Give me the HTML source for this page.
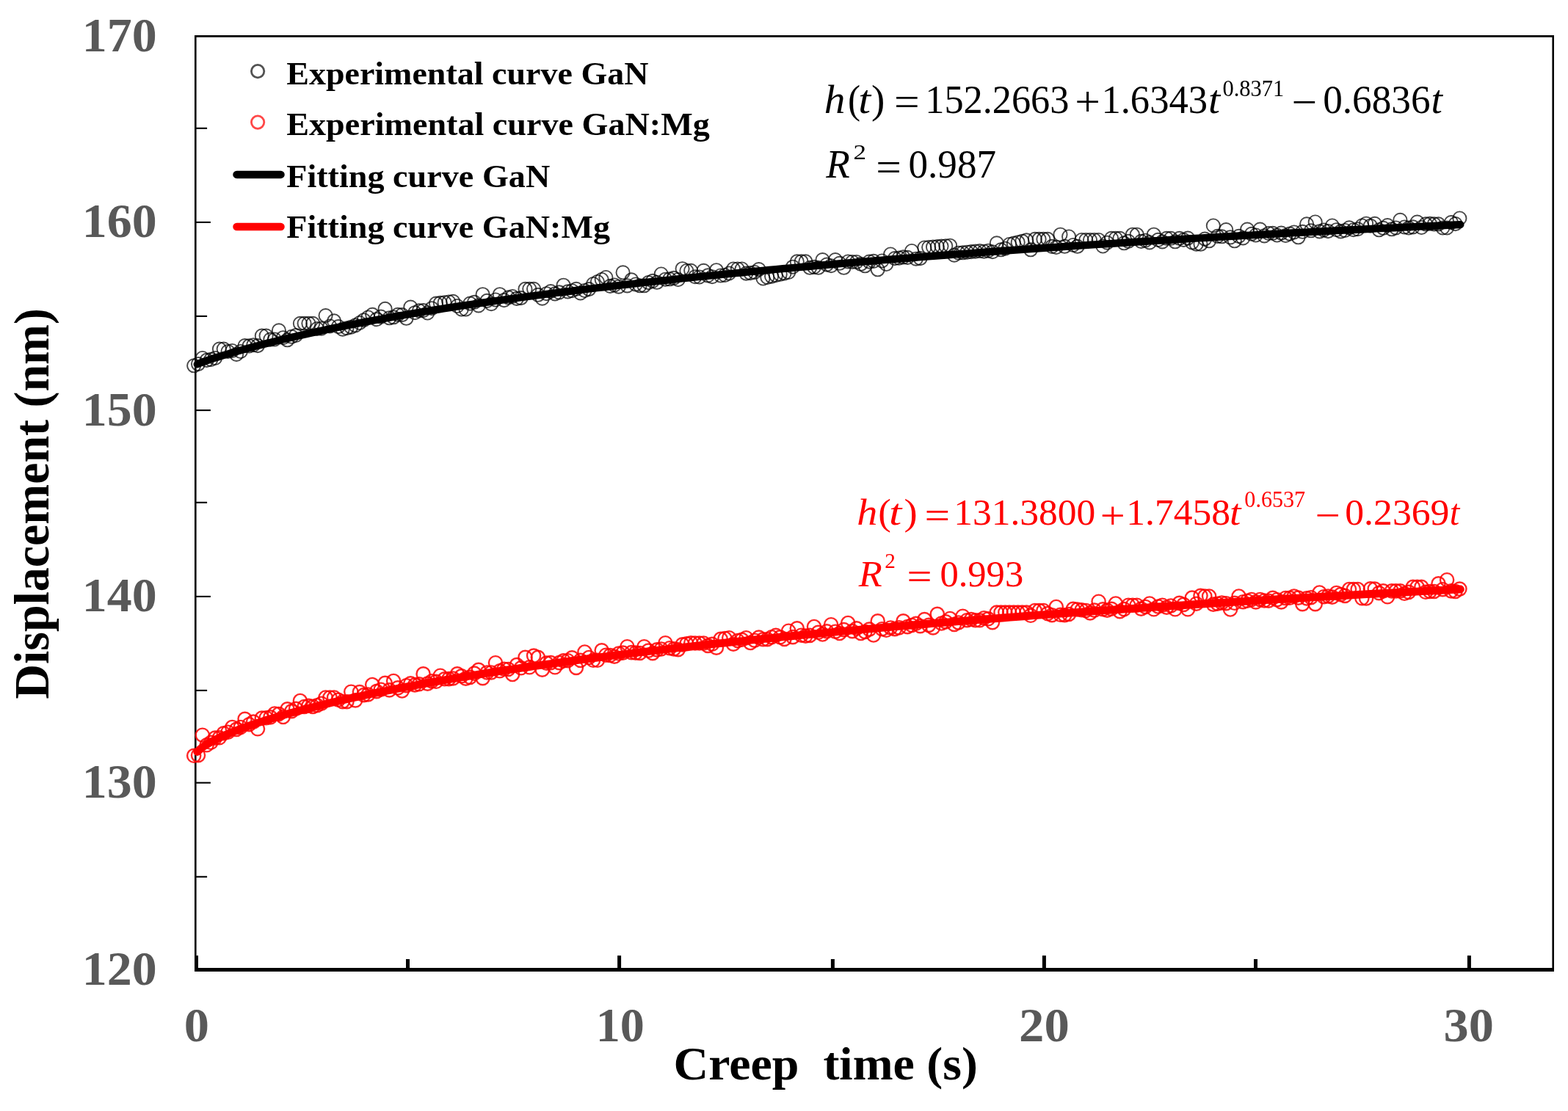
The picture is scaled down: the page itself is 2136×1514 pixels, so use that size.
<!DOCTYPE html>
<html lang="en"><head><meta charset="utf-8"><title>Creep displacement vs. creep time</title>
<style>
html,body{margin:0;padding:0;background:#fff;}
body{width:2136px;height:1514px;overflow:hidden;}
svg{display:block;}
text{font-family:"Liberation Serif","DejaVu Serif",serif;}
</style></head><body>
<svg xmlns="http://www.w3.org/2000/svg" width="2136" height="1514" viewBox="0 0 2136 1514">
<rect x="0" y="0" width="2136" height="1514" fill="#fff"/>
<g stroke="#000" fill="none">
<line x1="266.3" y1="48.1" x2="266.3" y2="1324.0" stroke-width="2.6"/>
<line x1="2115.7" y1="48.1" x2="2115.7" y2="1324.0" stroke-width="2.6"/>
<line x1="265.0" y1="49.4" x2="2117.0" y2="49.4" stroke-width="2.6"/>
<line x1="265.0" y1="1321.5" x2="2117.0" y2="1321.5" stroke-width="5"/>
<line x1="266.3" y1="302.9" x2="286.9" y2="302.9" stroke-width="2.1"/>
<line x1="266.3" y1="559.1" x2="286.9" y2="559.1" stroke-width="2.1"/>
<line x1="266.3" y1="812.9" x2="286.9" y2="812.9" stroke-width="2.1"/>
<line x1="266.3" y1="1066.7" x2="286.9" y2="1066.7" stroke-width="2.1"/>
<line x1="266.3" y1="174.8" x2="282.1" y2="174.8" stroke-width="2.1"/>
<line x1="266.3" y1="430.9" x2="282.1" y2="430.9" stroke-width="2.1"/>
<line x1="266.3" y1="684.8" x2="282.1" y2="684.8" stroke-width="2.1"/>
<line x1="266.3" y1="940.9" x2="282.1" y2="940.9" stroke-width="2.1"/>
<line x1="266.3" y1="1194.8" x2="282.1" y2="1194.8" stroke-width="2.1"/>
<line x1="267.5" y1="1302.2" x2="267.5" y2="1321.5" stroke-width="5"/>
<line x1="843.6" y1="1302.2" x2="843.6" y2="1321.5" stroke-width="5"/>
<line x1="1422.4" y1="1302.2" x2="1422.4" y2="1321.5" stroke-width="5"/>
<line x1="2001.4" y1="1302.2" x2="2001.4" y2="1321.5" stroke-width="5"/>
<line x1="555.5" y1="1307.0" x2="555.5" y2="1321.5" stroke-width="5"/>
<line x1="1134.4" y1="1307.0" x2="1134.4" y2="1321.5" stroke-width="5"/>
<line x1="1710.5" y1="1307.0" x2="1710.5" y2="1321.5" stroke-width="5"/>
</g>
<g fill="none" stroke="#000" stroke-width="1.9" stroke-opacity="0.72"><circle cx="264.2" cy="498.3" r="9.1"/><circle cx="270.0" cy="496.1" r="9.1"/><circle cx="275.8" cy="488.0" r="9.1"/><circle cx="281.6" cy="490.9" r="9.1"/><circle cx="287.3" cy="489.9" r="9.1"/><circle cx="293.1" cy="488.0" r="9.1"/><circle cx="298.9" cy="475.6" r="9.1"/><circle cx="304.7" cy="475.6" r="9.1"/><circle cx="310.5" cy="479.0" r="9.1"/><circle cx="316.3" cy="478.0" r="9.1"/><circle cx="322.1" cy="482.9" r="9.1"/><circle cx="327.8" cy="479.0" r="9.1"/><circle cx="333.6" cy="471.1" r="9.1"/><circle cx="339.4" cy="471.4" r="9.1"/><circle cx="345.2" cy="470.2" r="9.1"/><circle cx="351.0" cy="471.1" r="9.1"/><circle cx="356.8" cy="457.6" r="9.1"/><circle cx="362.6" cy="457.6" r="9.1"/><circle cx="368.3" cy="462.6" r="9.1"/><circle cx="374.1" cy="462.5" r="9.1"/><circle cx="379.9" cy="450.3" r="9.1"/><circle cx="385.7" cy="460.2" r="9.1"/><circle cx="391.5" cy="463.3" r="9.1"/><circle cx="397.3" cy="458.8" r="9.1"/><circle cx="403.1" cy="457.0" r="9.1"/><circle cx="408.9" cy="440.8" r="9.1"/><circle cx="414.6" cy="440.8" r="9.1"/><circle cx="420.4" cy="440.8" r="9.1"/><circle cx="426.2" cy="440.8" r="9.1"/><circle cx="432.0" cy="448.0" r="9.1"/><circle cx="437.8" cy="447.7" r="9.1"/><circle cx="443.6" cy="430.1" r="9.1"/><circle cx="449.4" cy="444.5" r="9.1"/><circle cx="455.1" cy="437.4" r="9.1"/><circle cx="460.9" cy="445.1" r="9.1"/><circle cx="466.7" cy="448.7" r="9.1"/><circle cx="472.5" cy="447.2" r="9.1"/><circle cx="478.3" cy="445.7" r="9.1"/><circle cx="484.1" cy="443.4" r="9.1"/><circle cx="489.9" cy="440.0" r="9.1"/><circle cx="495.6" cy="436.2" r="9.1"/><circle cx="501.4" cy="432.5" r="9.1"/><circle cx="507.2" cy="428.8" r="9.1"/><circle cx="513.0" cy="435.2" r="9.1"/><circle cx="518.8" cy="431.6" r="9.1"/><circle cx="524.6" cy="420.9" r="9.1"/><circle cx="530.4" cy="433.3" r="9.1"/><circle cx="536.1" cy="432.3" r="9.1"/><circle cx="541.9" cy="428.8" r="9.1"/><circle cx="547.7" cy="429.1" r="9.1"/><circle cx="553.5" cy="433.8" r="9.1"/><circle cx="559.3" cy="418.6" r="9.1"/><circle cx="565.1" cy="426.2" r="9.1"/><circle cx="570.9" cy="423.4" r="9.1"/><circle cx="576.6" cy="423.1" r="9.1"/><circle cx="582.4" cy="426.5" r="9.1"/><circle cx="588.2" cy="420.2" r="9.1"/><circle cx="594.0" cy="413.6" r="9.1"/><circle cx="599.8" cy="412.9" r="9.1"/><circle cx="605.6" cy="412.2" r="9.1"/><circle cx="611.4" cy="411.5" r="9.1"/><circle cx="617.1" cy="410.8" r="9.1"/><circle cx="622.9" cy="417.0" r="9.1"/><circle cx="628.7" cy="421.5" r="9.1"/><circle cx="634.5" cy="421.5" r="9.1"/><circle cx="640.3" cy="413.6" r="9.1"/><circle cx="646.1" cy="411.8" r="9.1"/><circle cx="651.9" cy="416.4" r="9.1"/><circle cx="657.6" cy="401.2" r="9.1"/><circle cx="663.4" cy="409.9" r="9.1"/><circle cx="669.2" cy="414.2" r="9.1"/><circle cx="675.0" cy="408.5" r="9.1"/><circle cx="680.8" cy="401.2" r="9.1"/><circle cx="686.6" cy="409.1" r="9.1"/><circle cx="692.4" cy="405.3" r="9.1"/><circle cx="698.1" cy="404.0" r="9.1"/><circle cx="703.9" cy="406.9" r="9.1"/><circle cx="709.7" cy="406.1" r="9.1"/><circle cx="715.5" cy="393.9" r="9.1"/><circle cx="721.3" cy="393.8" r="9.1"/><circle cx="727.1" cy="393.8" r="9.1"/><circle cx="732.9" cy="401.8" r="9.1"/><circle cx="738.7" cy="406.7" r="9.1"/><circle cx="744.4" cy="400.2" r="9.1"/><circle cx="750.2" cy="397.1" r="9.1"/><circle cx="756.0" cy="400.4" r="9.1"/><circle cx="761.8" cy="398.4" r="9.1"/><circle cx="767.6" cy="388.7" r="9.1"/><circle cx="773.4" cy="397.4" r="9.1"/><circle cx="779.2" cy="396.2" r="9.1"/><circle cx="784.9" cy="393.8" r="9.1"/><circle cx="790.7" cy="399.4" r="9.1"/><circle cx="796.5" cy="396.0" r="9.1"/><circle cx="802.3" cy="394.1" r="9.1"/><circle cx="808.1" cy="387.0" r="9.1"/><circle cx="813.9" cy="384.0" r="9.1"/><circle cx="819.7" cy="381.0" r="9.1"/><circle cx="825.4" cy="378.0" r="9.1"/><circle cx="831.2" cy="389.9" r="9.1"/><circle cx="837.0" cy="388.5" r="9.1"/><circle cx="842.8" cy="390.7" r="9.1"/><circle cx="848.6" cy="371.3" r="9.1"/><circle cx="854.4" cy="389.4" r="9.1"/><circle cx="860.2" cy="381.4" r="9.1"/><circle cx="865.9" cy="387.5" r="9.1"/><circle cx="871.7" cy="389.3" r="9.1"/><circle cx="877.5" cy="389.3" r="9.1"/><circle cx="883.3" cy="385.1" r="9.1"/><circle cx="889.1" cy="382.9" r="9.1"/><circle cx="894.9" cy="384.8" r="9.1"/><circle cx="900.7" cy="373.5" r="9.1"/><circle cx="906.4" cy="380.7" r="9.1"/><circle cx="912.2" cy="380.3" r="9.1"/><circle cx="918.0" cy="378.9" r="9.1"/><circle cx="923.8" cy="381.0" r="9.1"/><circle cx="929.6" cy="366.2" r="9.1"/><circle cx="935.4" cy="369.0" r="9.1"/><circle cx="941.2" cy="368.8" r="9.1"/><circle cx="946.9" cy="377.2" r="9.1"/><circle cx="952.7" cy="377.5" r="9.1"/><circle cx="958.5" cy="368.8" r="9.1"/><circle cx="964.3" cy="375.4" r="9.1"/><circle cx="970.1" cy="377.2" r="9.1"/><circle cx="975.9" cy="368.2" r="9.1"/><circle cx="981.7" cy="375.5" r="9.1"/><circle cx="987.5" cy="375.0" r="9.1"/><circle cx="993.2" cy="372.5" r="9.1"/><circle cx="999.0" cy="366.5" r="9.1"/><circle cx="1004.8" cy="366.5" r="9.1"/><circle cx="1010.6" cy="366.5" r="9.1"/><circle cx="1016.4" cy="372.6" r="9.1"/><circle cx="1022.2" cy="372.1" r="9.1"/><circle cx="1028.0" cy="371.0" r="9.1"/><circle cx="1033.7" cy="367.1" r="9.1"/><circle cx="1039.5" cy="379.5" r="9.1"/><circle cx="1045.3" cy="378.0" r="9.1"/><circle cx="1051.1" cy="376.6" r="9.1"/><circle cx="1056.9" cy="375.2" r="9.1"/><circle cx="1062.7" cy="373.8" r="9.1"/><circle cx="1068.5" cy="372.4" r="9.1"/><circle cx="1074.2" cy="371.0" r="9.1"/><circle cx="1080.0" cy="363.7" r="9.1"/><circle cx="1085.8" cy="356.4" r="9.1"/><circle cx="1091.6" cy="356.4" r="9.1"/><circle cx="1097.4" cy="356.4" r="9.1"/><circle cx="1103.2" cy="364.8" r="9.1"/><circle cx="1109.0" cy="363.9" r="9.1"/><circle cx="1114.7" cy="364.8" r="9.1"/><circle cx="1120.5" cy="354.1" r="9.1"/><circle cx="1126.3" cy="360.6" r="9.1"/><circle cx="1132.1" cy="362.2" r="9.1"/><circle cx="1137.9" cy="354.1" r="9.1"/><circle cx="1143.7" cy="358.8" r="9.1"/><circle cx="1149.5" cy="364.8" r="9.1"/><circle cx="1155.2" cy="356.5" r="9.1"/><circle cx="1161.0" cy="357.0" r="9.1"/><circle cx="1166.8" cy="357.0" r="9.1"/><circle cx="1172.6" cy="359.8" r="9.1"/><circle cx="1178.4" cy="362.3" r="9.1"/><circle cx="1184.2" cy="356.6" r="9.1"/><circle cx="1190.0" cy="355.9" r="9.1"/><circle cx="1195.7" cy="367.3" r="9.1"/><circle cx="1201.5" cy="355.5" r="9.1"/><circle cx="1207.3" cy="360.0" r="9.1"/><circle cx="1213.1" cy="346.5" r="9.1"/><circle cx="1218.9" cy="352.1" r="9.1"/><circle cx="1224.7" cy="351.6" r="9.1"/><circle cx="1230.5" cy="350.4" r="9.1"/><circle cx="1236.2" cy="350.9" r="9.1"/><circle cx="1242.0" cy="342.0" r="9.1"/><circle cx="1247.8" cy="352.7" r="9.1"/><circle cx="1253.6" cy="352.1" r="9.1"/><circle cx="1259.4" cy="337.5" r="9.1"/><circle cx="1265.2" cy="337.0" r="9.1"/><circle cx="1271.0" cy="336.6" r="9.1"/><circle cx="1276.8" cy="336.1" r="9.1"/><circle cx="1282.5" cy="335.6" r="9.1"/><circle cx="1288.3" cy="335.2" r="9.1"/><circle cx="1294.1" cy="334.7" r="9.1"/><circle cx="1299.9" cy="347.7" r="9.1"/><circle cx="1305.7" cy="344.7" r="9.1"/><circle cx="1311.5" cy="344.3" r="9.1"/><circle cx="1317.3" cy="343.7" r="9.1"/><circle cx="1323.0" cy="343.1" r="9.1"/><circle cx="1328.8" cy="342.6" r="9.1"/><circle cx="1334.6" cy="342.0" r="9.1"/><circle cx="1340.4" cy="342.7" r="9.1"/><circle cx="1346.2" cy="341.7" r="9.1"/><circle cx="1352.0" cy="343.2" r="9.1"/><circle cx="1357.8" cy="331.3" r="9.1"/><circle cx="1363.5" cy="340.3" r="9.1"/><circle cx="1369.3" cy="338.7" r="9.1"/><circle cx="1375.1" cy="333.0" r="9.1"/><circle cx="1380.9" cy="331.6" r="9.1"/><circle cx="1386.7" cy="330.2" r="9.1"/><circle cx="1392.5" cy="328.8" r="9.1"/><circle cx="1398.3" cy="327.4" r="9.1"/><circle cx="1404.0" cy="340.3" r="9.1"/><circle cx="1409.8" cy="325.9" r="9.1"/><circle cx="1415.6" cy="325.9" r="9.1"/><circle cx="1421.4" cy="325.9" r="9.1"/><circle cx="1427.2" cy="325.9" r="9.1"/><circle cx="1433.0" cy="335.9" r="9.1"/><circle cx="1438.8" cy="337.0" r="9.1"/><circle cx="1444.5" cy="319.7" r="9.1"/><circle cx="1450.3" cy="335.8" r="9.1"/><circle cx="1456.1" cy="322.5" r="9.1"/><circle cx="1461.9" cy="334.0" r="9.1"/><circle cx="1467.7" cy="335.8" r="9.1"/><circle cx="1473.5" cy="327.0" r="9.1"/><circle cx="1479.3" cy="327.0" r="9.1"/><circle cx="1485.0" cy="327.0" r="9.1"/><circle cx="1490.8" cy="327.0" r="9.1"/><circle cx="1496.6" cy="327.0" r="9.1"/><circle cx="1502.4" cy="335.5" r="9.1"/><circle cx="1508.2" cy="330.7" r="9.1"/><circle cx="1514.0" cy="324.8" r="9.1"/><circle cx="1519.8" cy="324.8" r="9.1"/><circle cx="1525.5" cy="324.8" r="9.1"/><circle cx="1531.3" cy="331.3" r="9.1"/><circle cx="1537.1" cy="328.8" r="9.1"/><circle cx="1542.9" cy="319.7" r="9.1"/><circle cx="1548.7" cy="319.7" r="9.1"/><circle cx="1554.5" cy="328.9" r="9.1"/><circle cx="1560.3" cy="327.7" r="9.1"/><circle cx="1566.0" cy="330.4" r="9.1"/><circle cx="1571.8" cy="319.7" r="9.1"/><circle cx="1577.6" cy="326.9" r="9.1"/><circle cx="1583.4" cy="329.4" r="9.1"/><circle cx="1589.2" cy="324.8" r="9.1"/><circle cx="1595.0" cy="324.8" r="9.1"/><circle cx="1600.8" cy="329.3" r="9.1"/><circle cx="1606.6" cy="324.8" r="9.1"/><circle cx="1612.3" cy="326.9" r="9.1"/><circle cx="1618.1" cy="324.6" r="9.1"/><circle cx="1623.9" cy="330.4" r="9.1"/><circle cx="1629.7" cy="332.7" r="9.1"/><circle cx="1635.5" cy="332.8" r="9.1"/><circle cx="1641.3" cy="325.6" r="9.1"/><circle cx="1647.1" cy="328.3" r="9.1"/><circle cx="1652.8" cy="307.5" r="9.1"/><circle cx="1658.6" cy="321.9" r="9.1"/><circle cx="1664.4" cy="322.3" r="9.1"/><circle cx="1670.2" cy="313.1" r="9.1"/><circle cx="1676.0" cy="323.4" r="9.1"/><circle cx="1681.8" cy="328.3" r="9.1"/><circle cx="1687.6" cy="321.9" r="9.1"/><circle cx="1693.3" cy="324.4" r="9.1"/><circle cx="1699.1" cy="312.6" r="9.1"/><circle cx="1704.9" cy="318.8" r="9.1"/><circle cx="1710.7" cy="320.5" r="9.1"/><circle cx="1716.5" cy="312.6" r="9.1"/><circle cx="1722.3" cy="321.4" r="9.1"/><circle cx="1728.1" cy="318.0" r="9.1"/><circle cx="1733.8" cy="317.8" r="9.1"/><circle cx="1739.6" cy="320.5" r="9.1"/><circle cx="1745.4" cy="317.6" r="9.1"/><circle cx="1751.2" cy="321.0" r="9.1"/><circle cx="1757.0" cy="318.6" r="9.1"/><circle cx="1762.8" cy="316.5" r="9.1"/><circle cx="1768.6" cy="323.3" r="9.1"/><circle cx="1774.3" cy="315.8" r="9.1"/><circle cx="1780.1" cy="305.3" r="9.1"/><circle cx="1785.9" cy="314.3" r="9.1"/><circle cx="1791.7" cy="302.5" r="9.1"/><circle cx="1797.5" cy="315.4" r="9.1"/><circle cx="1803.3" cy="313.5" r="9.1"/><circle cx="1809.1" cy="315.1" r="9.1"/><circle cx="1814.8" cy="307.5" r="9.1"/><circle cx="1820.6" cy="313.2" r="9.1"/><circle cx="1826.4" cy="315.4" r="9.1"/><circle cx="1832.2" cy="314.0" r="9.1"/><circle cx="1838.0" cy="310.3" r="9.1"/><circle cx="1843.8" cy="313.2" r="9.1"/><circle cx="1849.6" cy="312.2" r="9.1"/><circle cx="1855.4" cy="307.5" r="9.1"/><circle cx="1861.1" cy="304.7" r="9.1"/><circle cx="1866.9" cy="307.7" r="9.1"/><circle cx="1872.7" cy="304.8" r="9.1"/><circle cx="1878.5" cy="313.3" r="9.1"/><circle cx="1884.3" cy="310.8" r="9.1"/><circle cx="1890.1" cy="307.1" r="9.1"/><circle cx="1895.9" cy="312.3" r="9.1"/><circle cx="1901.6" cy="310.5" r="9.1"/><circle cx="1907.4" cy="299.8" r="9.1"/><circle cx="1913.2" cy="309.5" r="9.1"/><circle cx="1919.0" cy="310.5" r="9.1"/><circle cx="1924.8" cy="309.4" r="9.1"/><circle cx="1930.6" cy="302.6" r="9.1"/><circle cx="1936.4" cy="310.0" r="9.1"/><circle cx="1942.1" cy="305.4" r="9.1"/><circle cx="1947.9" cy="304.8" r="9.1"/><circle cx="1953.7" cy="305.4" r="9.1"/><circle cx="1959.5" cy="305.4" r="9.1"/><circle cx="1965.3" cy="310.5" r="9.1"/><circle cx="1971.1" cy="310.5" r="9.1"/><circle cx="1976.9" cy="303.1" r="9.1"/><circle cx="1982.6" cy="305.1" r="9.1"/><circle cx="1988.4" cy="297.5" r="9.1"/></g>
<polyline fill="none" stroke="#000" stroke-width="10.2" stroke-linecap="round" stroke-linejoin="round" points="268.7,496.4 273.0,494.5 277.4,492.9 281.8,491.4 286.2,489.9 290.7,488.4 295.3,487.0 299.8,485.6 304.5,484.2 309.1,482.8 313.8,481.4 318.6,480.0 323.4,478.6 328.2,477.3 333.1,475.9 338.0,474.6 343.0,473.2 348.0,471.9 353.1,470.6 358.2,469.3 363.3,468.0 368.5,466.7 373.7,465.4 379.0,464.1 384.3,462.8 389.7,461.5 395.1,460.2 400.5,459.0 406.0,457.7 411.5,456.5 417.1,455.2 422.7,454.0 428.4,452.7 434.1,451.5 439.8,450.3 445.6,449.1 451.4,447.8 457.3,446.6 463.2,445.4 469.2,444.2 475.2,443.0 481.2,441.9 487.3,440.7 493.4,439.5 499.6,438.3 505.8,437.2 512.1,436.0 518.4,434.9 524.7,433.7 531.1,432.6 537.5,431.5 544.0,430.4 550.5,429.2 557.1,428.1 563.7,427.0 570.3,425.9 577.0,424.8 583.8,423.7 590.5,422.6 597.4,421.6 604.2,420.5 611.1,419.4 618.1,418.4 625.1,417.3 632.1,416.2 639.2,415.2 646.3,414.2 653.5,413.1 660.7,412.1 667.9,411.1 675.2,410.0 682.5,409.0 689.9,408.0 697.3,407.0 704.8,406.0 712.3,405.0 719.9,404.0 727.4,403.0 735.1,402.0 742.8,401.0 750.5,400.0 758.2,399.0 766.1,398.1 773.9,397.1 781.8,396.1 789.7,395.2 797.7,394.2 805.7,393.3 813.8,392.3 821.9,391.4 830.1,390.4 838.3,389.5 846.5,388.5 854.8,387.6 863.1,386.7 871.5,385.7 879.9,384.8 888.3,383.9 896.8,383.0 905.4,382.1 914.0,381.2 922.6,380.3 931.2,379.3 940.0,378.4 948.7,377.5 957.5,376.7 966.4,375.8 975.2,374.9 984.2,374.0 993.1,373.1 1002.1,372.2 1011.2,371.4 1020.3,370.5 1029.4,369.6 1038.6,368.8 1047.9,367.9 1057.1,367.0 1066.4,366.2 1075.8,365.3 1085.2,364.5 1094.6,363.6 1104.1,362.8 1113.6,361.9 1123.2,361.1 1132.8,360.3 1142.5,359.4 1152.2,358.6 1161.9,357.8 1171.7,357.0 1181.6,356.1 1191.4,355.3 1201.3,354.5 1211.3,353.7 1221.3,352.9 1231.3,352.1 1241.4,351.3 1251.6,350.5 1261.7,349.7 1272.0,348.9 1282.2,348.1 1292.5,347.3 1302.9,346.5 1313.3,345.8 1323.7,345.0 1334.2,344.2 1344.7,343.4 1355.2,342.7 1365.8,341.9 1376.5,341.2 1387.2,340.4 1397.9,339.6 1408.7,338.9 1419.5,338.1 1430.4,337.4 1441.3,336.7 1452.2,335.9 1463.2,335.2 1474.3,334.5 1485.3,333.7 1496.5,333.0 1507.6,332.3 1518.8,331.6 1530.1,330.8 1541.4,330.1 1552.7,329.4 1564.1,328.7 1575.5,328.0 1587.0,327.3 1598.5,326.6 1610.0,325.9 1621.6,325.2 1633.3,324.5 1644.9,323.9 1656.7,323.2 1668.4,322.5 1680.2,321.8 1692.1,321.2 1704.0,320.5 1715.9,319.8 1727.9,319.2 1739.9,318.5 1752.0,317.9 1764.1,317.2 1776.2,316.6 1788.4,315.9 1800.7,315.3 1813.0,314.6 1825.3,314.0 1837.7,313.4 1850.1,312.8 1862.5,312.1 1875.0,311.5 1887.6,310.9 1900.1,310.3 1912.8,309.7 1925.4,309.1 1938.1,308.5 1950.9,307.9 1963.7,307.3 1976.5,306.7 1989.4,306.1"/>
<g fill="none" stroke="#ff0000" stroke-width="2.4" stroke-opacity="0.85"><circle cx="264.2" cy="1029.8" r="9.1"/><circle cx="270.0" cy="1029.2" r="9.1"/><circle cx="275.8" cy="1001.7" r="9.1"/><circle cx="281.6" cy="1015.3" r="9.1"/><circle cx="287.3" cy="1011.8" r="9.1"/><circle cx="293.1" cy="1005.6" r="9.1"/><circle cx="298.9" cy="1005.3" r="9.1"/><circle cx="304.7" cy="999.3" r="9.1"/><circle cx="310.5" cy="997.7" r="9.1"/><circle cx="316.3" cy="991.0" r="9.1"/><circle cx="322.1" cy="993.9" r="9.1"/><circle cx="327.8" cy="991.0" r="9.1"/><circle cx="333.6" cy="979.8" r="9.1"/><circle cx="339.4" cy="987.2" r="9.1"/><circle cx="345.2" cy="983.6" r="9.1"/><circle cx="351.0" cy="993.3" r="9.1"/><circle cx="356.8" cy="978.6" r="9.1"/><circle cx="362.6" cy="978.2" r="9.1"/><circle cx="368.3" cy="977.4" r="9.1"/><circle cx="374.1" cy="972.5" r="9.1"/><circle cx="379.9" cy="973.0" r="9.1"/><circle cx="385.7" cy="977.0" r="9.1"/><circle cx="391.5" cy="966.3" r="9.1"/><circle cx="397.3" cy="969.1" r="9.1"/><circle cx="403.1" cy="965.8" r="9.1"/><circle cx="408.9" cy="955.0" r="9.1"/><circle cx="414.6" cy="963.0" r="9.1"/><circle cx="420.4" cy="961.8" r="9.1"/><circle cx="426.2" cy="962.9" r="9.1"/><circle cx="432.0" cy="961.2" r="9.1"/><circle cx="437.8" cy="958.7" r="9.1"/><circle cx="443.6" cy="950.5" r="9.1"/><circle cx="449.4" cy="950.5" r="9.1"/><circle cx="455.1" cy="950.5" r="9.1"/><circle cx="460.9" cy="953.7" r="9.1"/><circle cx="466.7" cy="956.2" r="9.1"/><circle cx="472.5" cy="956.2" r="9.1"/><circle cx="478.3" cy="942.7" r="9.1"/><circle cx="484.1" cy="954.4" r="9.1"/><circle cx="489.9" cy="943.1" r="9.1"/><circle cx="495.6" cy="947.1" r="9.1"/><circle cx="501.4" cy="946.5" r="9.1"/><circle cx="507.2" cy="933.0" r="9.1"/><circle cx="513.0" cy="942.1" r="9.1"/><circle cx="518.8" cy="939.7" r="9.1"/><circle cx="524.6" cy="930.8" r="9.1"/><circle cx="530.4" cy="940.4" r="9.1"/><circle cx="536.1" cy="928.0" r="9.1"/><circle cx="541.9" cy="937.4" r="9.1"/><circle cx="547.7" cy="941.5" r="9.1"/><circle cx="553.5" cy="934.2" r="9.1"/><circle cx="559.3" cy="931.3" r="9.1"/><circle cx="565.1" cy="933.4" r="9.1"/><circle cx="570.9" cy="932.3" r="9.1"/><circle cx="576.6" cy="918.4" r="9.1"/><circle cx="582.4" cy="931.6" r="9.1"/><circle cx="588.2" cy="928.2" r="9.1"/><circle cx="594.0" cy="928.8" r="9.1"/><circle cx="599.8" cy="920.7" r="9.1"/><circle cx="605.6" cy="925.3" r="9.1"/><circle cx="611.4" cy="925.1" r="9.1"/><circle cx="617.1" cy="924.5" r="9.1"/><circle cx="622.9" cy="918.4" r="9.1"/><circle cx="628.7" cy="921.3" r="9.1"/><circle cx="634.5" cy="924.6" r="9.1"/><circle cx="640.3" cy="922.9" r="9.1"/><circle cx="646.1" cy="917.6" r="9.1"/><circle cx="651.9" cy="912.8" r="9.1"/><circle cx="657.6" cy="924.1" r="9.1"/><circle cx="663.4" cy="916.5" r="9.1"/><circle cx="669.2" cy="916.5" r="9.1"/><circle cx="675.0" cy="903.2" r="9.1"/><circle cx="680.8" cy="914.3" r="9.1"/><circle cx="686.6" cy="911.7" r="9.1"/><circle cx="692.4" cy="912.0" r="9.1"/><circle cx="698.1" cy="919.0" r="9.1"/><circle cx="703.9" cy="906.1" r="9.1"/><circle cx="709.7" cy="910.3" r="9.1"/><circle cx="715.5" cy="895.9" r="9.1"/><circle cx="721.3" cy="909.3" r="9.1"/><circle cx="727.1" cy="893.6" r="9.1"/><circle cx="732.9" cy="895.8" r="9.1"/><circle cx="738.7" cy="912.7" r="9.1"/><circle cx="744.4" cy="903.6" r="9.1"/><circle cx="750.2" cy="903.1" r="9.1"/><circle cx="756.0" cy="909.3" r="9.1"/><circle cx="761.8" cy="903.1" r="9.1"/><circle cx="767.6" cy="900.4" r="9.1"/><circle cx="773.4" cy="900.2" r="9.1"/><circle cx="779.2" cy="896.4" r="9.1"/><circle cx="784.9" cy="909.9" r="9.1"/><circle cx="790.7" cy="899.9" r="9.1"/><circle cx="796.5" cy="888.5" r="9.1"/><circle cx="802.3" cy="896.0" r="9.1"/><circle cx="808.1" cy="899.8" r="9.1"/><circle cx="813.9" cy="899.8" r="9.1"/><circle cx="819.7" cy="886.3" r="9.1"/><circle cx="825.4" cy="892.7" r="9.1"/><circle cx="831.2" cy="893.0" r="9.1"/><circle cx="837.0" cy="894.7" r="9.1"/><circle cx="842.8" cy="890.5" r="9.1"/><circle cx="848.6" cy="889.6" r="9.1"/><circle cx="854.4" cy="881.2" r="9.1"/><circle cx="860.2" cy="889.1" r="9.1"/><circle cx="865.9" cy="889.6" r="9.1"/><circle cx="871.7" cy="890.0" r="9.1"/><circle cx="877.5" cy="881.2" r="9.1"/><circle cx="883.3" cy="886.6" r="9.1"/><circle cx="889.1" cy="890.2" r="9.1"/><circle cx="894.9" cy="885.4" r="9.1"/><circle cx="900.7" cy="884.5" r="9.1"/><circle cx="906.4" cy="876.2" r="9.1"/><circle cx="912.2" cy="883.2" r="9.1"/><circle cx="918.0" cy="884.4" r="9.1"/><circle cx="923.8" cy="885.2" r="9.1"/><circle cx="929.6" cy="878.4" r="9.1"/><circle cx="935.4" cy="877.3" r="9.1"/><circle cx="941.2" cy="876.2" r="9.1"/><circle cx="946.9" cy="876.5" r="9.1"/><circle cx="952.7" cy="876.5" r="9.1"/><circle cx="958.5" cy="876.5" r="9.1"/><circle cx="964.3" cy="879.9" r="9.1"/><circle cx="970.1" cy="877.8" r="9.1"/><circle cx="975.9" cy="882.7" r="9.1"/><circle cx="981.7" cy="870.9" r="9.1"/><circle cx="987.5" cy="870.0" r="9.1"/><circle cx="993.2" cy="869.2" r="9.1"/><circle cx="999.0" cy="877.7" r="9.1"/><circle cx="1004.8" cy="873.0" r="9.1"/><circle cx="1010.6" cy="871.8" r="9.1"/><circle cx="1016.4" cy="869.2" r="9.1"/><circle cx="1022.2" cy="876.0" r="9.1"/><circle cx="1028.0" cy="872.7" r="9.1"/><circle cx="1033.7" cy="868.6" r="9.1"/><circle cx="1039.5" cy="871.3" r="9.1"/><circle cx="1045.3" cy="871.2" r="9.1"/><circle cx="1051.1" cy="868.2" r="9.1"/><circle cx="1056.9" cy="865.8" r="9.1"/><circle cx="1062.7" cy="868.3" r="9.1"/><circle cx="1068.5" cy="870.9" r="9.1"/><circle cx="1074.2" cy="859.7" r="9.1"/><circle cx="1080.0" cy="868.1" r="9.1"/><circle cx="1085.8" cy="856.3" r="9.1"/><circle cx="1091.6" cy="865.7" r="9.1"/><circle cx="1097.4" cy="866.6" r="9.1"/><circle cx="1103.2" cy="865.9" r="9.1"/><circle cx="1109.0" cy="854.0" r="9.1"/><circle cx="1114.7" cy="861.8" r="9.1"/><circle cx="1120.5" cy="864.5" r="9.1"/><circle cx="1126.3" cy="860.3" r="9.1"/><circle cx="1132.1" cy="851.2" r="9.1"/><circle cx="1137.9" cy="860.7" r="9.1"/><circle cx="1143.7" cy="863.0" r="9.1"/><circle cx="1149.5" cy="858.1" r="9.1"/><circle cx="1155.2" cy="849.0" r="9.1"/><circle cx="1161.0" cy="860.1" r="9.1"/><circle cx="1166.8" cy="856.3" r="9.1"/><circle cx="1172.6" cy="863.0" r="9.1"/><circle cx="1178.4" cy="861.0" r="9.1"/><circle cx="1184.2" cy="857.6" r="9.1"/><circle cx="1190.0" cy="865.5" r="9.1"/><circle cx="1195.7" cy="846.4" r="9.1"/><circle cx="1201.5" cy="857.2" r="9.1"/><circle cx="1207.3" cy="858.8" r="9.1"/><circle cx="1213.1" cy="855.5" r="9.1"/><circle cx="1218.9" cy="857.1" r="9.1"/><circle cx="1224.7" cy="855.4" r="9.1"/><circle cx="1230.5" cy="846.4" r="9.1"/><circle cx="1236.2" cy="854.1" r="9.1"/><circle cx="1242.0" cy="852.0" r="9.1"/><circle cx="1247.8" cy="849.8" r="9.1"/><circle cx="1253.6" cy="853.2" r="9.1"/><circle cx="1259.4" cy="844.1" r="9.1"/><circle cx="1265.2" cy="851.9" r="9.1"/><circle cx="1271.0" cy="855.4" r="9.1"/><circle cx="1276.8" cy="836.8" r="9.1"/><circle cx="1282.5" cy="849.5" r="9.1"/><circle cx="1288.3" cy="847.4" r="9.1"/><circle cx="1294.1" cy="843.0" r="9.1"/><circle cx="1299.9" cy="850.9" r="9.1"/><circle cx="1305.7" cy="848.5" r="9.1"/><circle cx="1311.5" cy="839.7" r="9.1"/><circle cx="1317.3" cy="845.2" r="9.1"/><circle cx="1323.0" cy="844.0" r="9.1"/><circle cx="1328.8" cy="845.3" r="9.1"/><circle cx="1334.6" cy="845.3" r="9.1"/><circle cx="1340.4" cy="842.2" r="9.1"/><circle cx="1346.2" cy="843.3" r="9.1"/><circle cx="1352.0" cy="848.1" r="9.1"/><circle cx="1357.8" cy="834.6" r="9.1"/><circle cx="1363.5" cy="834.6" r="9.1"/><circle cx="1369.3" cy="834.6" r="9.1"/><circle cx="1375.1" cy="834.6" r="9.1"/><circle cx="1380.9" cy="834.6" r="9.1"/><circle cx="1386.7" cy="834.6" r="9.1"/><circle cx="1392.5" cy="834.6" r="9.1"/><circle cx="1398.3" cy="834.6" r="9.1"/><circle cx="1404.0" cy="838.8" r="9.1"/><circle cx="1409.8" cy="832.0" r="9.1"/><circle cx="1415.6" cy="832.0" r="9.1"/><circle cx="1421.4" cy="832.0" r="9.1"/><circle cx="1427.2" cy="836.1" r="9.1"/><circle cx="1433.0" cy="838.2" r="9.1"/><circle cx="1438.8" cy="827.0" r="9.1"/><circle cx="1444.5" cy="837.8" r="9.1"/><circle cx="1450.3" cy="838.2" r="9.1"/><circle cx="1456.1" cy="837.0" r="9.1"/><circle cx="1461.9" cy="829.8" r="9.1"/><circle cx="1467.7" cy="830.5" r="9.1"/><circle cx="1473.5" cy="831.3" r="9.1"/><circle cx="1479.3" cy="832.0" r="9.1"/><circle cx="1485.0" cy="835.4" r="9.1"/><circle cx="1490.8" cy="831.6" r="9.1"/><circle cx="1496.6" cy="819.7" r="9.1"/><circle cx="1502.4" cy="830.3" r="9.1"/><circle cx="1508.2" cy="831.6" r="9.1"/><circle cx="1514.0" cy="829.8" r="9.1"/><circle cx="1519.8" cy="822.5" r="9.1"/><circle cx="1525.5" cy="833.2" r="9.1"/><circle cx="1531.3" cy="830.1" r="9.1"/><circle cx="1537.1" cy="824.7" r="9.1"/><circle cx="1542.9" cy="824.7" r="9.1"/><circle cx="1548.7" cy="824.7" r="9.1"/><circle cx="1554.5" cy="829.6" r="9.1"/><circle cx="1560.3" cy="827.0" r="9.1"/><circle cx="1566.0" cy="822.5" r="9.1"/><circle cx="1571.8" cy="830.3" r="9.1"/><circle cx="1577.6" cy="826.5" r="9.1"/><circle cx="1583.4" cy="824.7" r="9.1"/><circle cx="1589.2" cy="827.7" r="9.1"/><circle cx="1595.0" cy="825.5" r="9.1"/><circle cx="1600.8" cy="830.3" r="9.1"/><circle cx="1606.6" cy="821.9" r="9.1"/><circle cx="1612.3" cy="823.9" r="9.1"/><circle cx="1618.1" cy="830.3" r="9.1"/><circle cx="1623.9" cy="814.6" r="9.1"/><circle cx="1629.7" cy="822.7" r="9.1"/><circle cx="1635.5" cy="811.8" r="9.1"/><circle cx="1641.3" cy="812.5" r="9.1"/><circle cx="1647.1" cy="812.5" r="9.1"/><circle cx="1652.8" cy="823.6" r="9.1"/><circle cx="1658.6" cy="822.7" r="9.1"/><circle cx="1664.4" cy="821.5" r="9.1"/><circle cx="1670.2" cy="822.2" r="9.1"/><circle cx="1676.0" cy="830.5" r="9.1"/><circle cx="1681.8" cy="821.8" r="9.1"/><circle cx="1687.6" cy="812.5" r="9.1"/><circle cx="1693.3" cy="820.2" r="9.1"/><circle cx="1699.1" cy="818.8" r="9.1"/><circle cx="1704.9" cy="817.0" r="9.1"/><circle cx="1710.7" cy="820.4" r="9.1"/><circle cx="1716.5" cy="817.0" r="9.1"/><circle cx="1722.3" cy="818.5" r="9.1"/><circle cx="1728.1" cy="818.7" r="9.1"/><circle cx="1733.8" cy="814.8" r="9.1"/><circle cx="1739.6" cy="817.2" r="9.1"/><circle cx="1745.4" cy="820.4" r="9.1"/><circle cx="1751.2" cy="815.0" r="9.1"/><circle cx="1757.0" cy="814.8" r="9.1"/><circle cx="1762.8" cy="812.5" r="9.1"/><circle cx="1768.6" cy="814.6" r="9.1"/><circle cx="1774.3" cy="823.2" r="9.1"/><circle cx="1780.1" cy="815.4" r="9.1"/><circle cx="1785.9" cy="814.2" r="9.1"/><circle cx="1791.7" cy="823.2" r="9.1"/><circle cx="1797.5" cy="807.5" r="9.1"/><circle cx="1803.3" cy="813.2" r="9.1"/><circle cx="1809.1" cy="812.5" r="9.1"/><circle cx="1814.8" cy="813.6" r="9.1"/><circle cx="1820.6" cy="808.0" r="9.1"/><circle cx="1826.4" cy="810.1" r="9.1"/><circle cx="1832.2" cy="811.9" r="9.1"/><circle cx="1838.0" cy="803.0" r="9.1"/><circle cx="1843.8" cy="803.0" r="9.1"/><circle cx="1849.6" cy="803.0" r="9.1"/><circle cx="1855.4" cy="815.3" r="9.1"/><circle cx="1861.1" cy="815.5" r="9.1"/><circle cx="1866.9" cy="802.4" r="9.1"/><circle cx="1872.7" cy="802.6" r="9.1"/><circle cx="1878.5" cy="808.1" r="9.1"/><circle cx="1884.3" cy="805.4" r="9.1"/><circle cx="1890.1" cy="813.3" r="9.1"/><circle cx="1895.9" cy="805.4" r="9.1"/><circle cx="1901.6" cy="805.4" r="9.1"/><circle cx="1907.4" cy="805.4" r="9.1"/><circle cx="1913.2" cy="808.8" r="9.1"/><circle cx="1919.0" cy="806.9" r="9.1"/><circle cx="1924.8" cy="799.8" r="9.1"/><circle cx="1930.6" cy="799.8" r="9.1"/><circle cx="1936.4" cy="799.8" r="9.1"/><circle cx="1942.1" cy="806.8" r="9.1"/><circle cx="1947.9" cy="806.0" r="9.1"/><circle cx="1953.7" cy="806.0" r="9.1"/><circle cx="1959.5" cy="795.3" r="9.1"/><circle cx="1965.3" cy="803.2" r="9.1"/><circle cx="1971.1" cy="790.2" r="9.1"/><circle cx="1976.9" cy="805.4" r="9.1"/><circle cx="1982.6" cy="806.0" r="9.1"/><circle cx="1988.4" cy="802.6" r="9.1"/></g>
<polyline fill="none" stroke="#ff0000" stroke-width="10.8" stroke-linecap="round" stroke-linejoin="round" points="268.7,1024.6 273.0,1020.5 277.4,1017.2 281.8,1014.4 286.2,1011.8 290.7,1009.3 295.3,1007.0 299.8,1004.8 304.5,1002.7 309.1,1000.7 313.8,998.7 318.6,996.8 323.4,994.9 328.2,993.1 333.1,991.3 338.0,989.6 343.0,987.8 348.0,986.2 353.1,984.5 358.2,982.9 363.3,981.2 368.5,979.6 373.7,978.1 379.0,976.5 384.3,975.0 389.7,973.4 395.1,971.9 400.5,970.4 406.0,969.0 411.5,967.5 417.1,966.0 422.7,964.6 428.4,963.2 434.1,961.8 439.8,960.4 445.6,959.0 451.4,957.6 457.3,956.2 463.2,954.8 469.2,953.5 475.2,952.1 481.2,950.8 487.3,949.5 493.4,948.2 499.6,946.8 505.8,945.5 512.1,944.3 518.4,943.0 524.7,941.7 531.1,940.4 537.5,939.2 544.0,937.9 550.5,936.7 557.1,935.4 563.7,934.2 570.3,933.0 577.0,931.8 583.8,930.6 590.5,929.3 597.4,928.2 604.2,927.0 611.1,925.8 618.1,924.6 625.1,923.4 632.1,922.3 639.2,921.1 646.3,920.0 653.5,918.8 660.7,917.7 667.9,916.6 675.2,915.4 682.5,914.3 689.9,913.2 697.3,912.1 704.8,911.0 712.3,909.9 719.9,908.8 727.4,907.7 735.1,906.6 742.8,905.5 750.5,904.5 758.2,903.4 766.1,902.3 773.9,901.3 781.8,900.2 789.7,899.2 797.7,898.1 805.7,897.1 813.8,896.1 821.9,895.0 830.1,894.0 838.3,893.0 846.5,892.0 854.8,891.0 863.1,890.0 871.5,889.0 879.9,888.0 888.3,887.0 896.8,886.0 905.4,885.0 914.0,884.0 922.6,883.0 931.2,882.1 940.0,881.1 948.7,880.1 957.5,879.2 966.4,878.2 975.2,877.2 984.2,876.3 993.1,875.4 1002.1,874.4 1011.2,873.5 1020.3,872.5 1029.4,871.6 1038.6,870.7 1047.9,869.8 1057.1,868.8 1066.4,867.9 1075.8,867.0 1085.2,866.1 1094.6,865.2 1104.1,864.3 1113.6,863.4 1123.2,862.5 1132.8,861.6 1142.5,860.7 1152.2,859.8 1161.9,858.9 1171.7,858.1 1181.6,857.2 1191.4,856.3 1201.3,855.4 1211.3,854.6 1221.3,853.7 1231.3,852.9 1241.4,852.0 1251.6,851.1 1261.7,850.3 1272.0,849.4 1282.2,848.6 1292.5,847.8 1302.9,846.9 1313.3,846.1 1323.7,845.3 1334.2,844.4 1344.7,843.6 1355.2,842.8 1365.8,842.0 1376.5,841.2 1387.2,840.3 1397.9,839.5 1408.7,838.7 1419.5,837.9 1430.4,837.1 1441.3,836.3 1452.2,835.5 1463.2,834.8 1474.3,834.0 1485.3,833.2 1496.5,832.4 1507.6,831.6 1518.8,830.9 1530.1,830.1 1541.4,829.3 1552.7,828.6 1564.1,827.8 1575.5,827.0 1587.0,826.3 1598.5,825.5 1610.0,824.8 1621.6,824.0 1633.3,823.3 1644.9,822.5 1656.7,821.8 1668.4,821.1 1680.2,820.3 1692.1,819.6 1704.0,818.9 1715.9,818.2 1727.9,817.4 1739.9,816.7 1752.0,816.0 1764.1,815.3 1776.2,814.6 1788.4,813.9 1800.7,813.2 1813.0,812.5 1825.3,811.8 1837.7,811.1 1850.1,810.4 1862.5,809.7 1875.0,809.0 1887.6,808.4 1900.1,807.7 1912.8,807.0 1925.4,806.3 1938.1,805.7 1950.9,805.0 1963.7,804.4 1976.5,803.7 1989.4,803.0"/>
<g fill="#595959">
<text transform="translate(111.76,69.90) scale(1.0428,1.0000)" font-size="65.2" font-weight="bold" xml:space="preserve">170</text>
<text transform="translate(111.76,323.40) scale(1.0428,1.0000)" font-size="65.2" font-weight="bold" xml:space="preserve">160</text>
<text transform="translate(111.76,579.60) scale(1.0428,1.0000)" font-size="65.2" font-weight="bold" xml:space="preserve">150</text>
<text transform="translate(111.76,833.40) scale(1.0428,1.0000)" font-size="65.2" font-weight="bold" xml:space="preserve">140</text>
<text transform="translate(111.76,1087.20) scale(1.0428,1.0000)" font-size="65.2" font-weight="bold" xml:space="preserve">130</text>
<text transform="translate(111.76,1342.00) scale(1.0428,1.0000)" font-size="65.2" font-weight="bold" xml:space="preserve">120</text>
<text transform="translate(250.63,1419.40) scale(1.0502,1.0000)" font-size="65.2" font-weight="bold" xml:space="preserve">0</text>
<text transform="translate(811.71,1419.40) scale(1.0150,1.0000)" font-size="65.2" font-weight="bold" xml:space="preserve">10</text>
<text transform="translate(1388.08,1419.40) scale(1.0553,1.0000)" font-size="65.2" font-weight="bold" xml:space="preserve">20</text>
<text transform="translate(1966.43,1419.40) scale(1.0496,1.0000)" font-size="65.2" font-weight="bold" xml:space="preserve">30</text>
</g>
<text transform="translate(917.60,1471.20) scale(1.0254,1.0000)" font-size="64.3" font-weight="bold" xml:space="preserve">Creep  time (s)</text>
<text transform="translate(66.0,952.65) rotate(-90) scale(1,1.03)" font-size="66" font-weight="bold" letter-spacing="-0.043">Displacement (nm)</text>
<circle cx="351.1" cy="97.1" r="8.7" fill="none" stroke="#000" stroke-opacity="0.68" stroke-width="2.8"/>
<circle cx="351.1" cy="166.6" r="8.7" fill="none" stroke="#ff0000" stroke-opacity="0.72" stroke-width="2.8"/>
<line x1="322.5" y1="237.9" x2="382.5" y2="237.9" stroke="#000" stroke-width="10.5" stroke-linecap="round"/>
<line x1="322.5" y1="309" x2="382.5" y2="309" stroke="#ff0000" stroke-width="10.5" stroke-linecap="round"/>
<text transform="translate(390.19,114.60) scale(1.0460,1.0000)" font-size="44" font-weight="bold" xml:space="preserve">Experimental curve GaN</text>
<text transform="translate(390.19,183.60) scale(1.0489,1.0000)" font-size="44" font-weight="bold" xml:space="preserve">Experimental curve GaN:Mg</text>
<text transform="translate(390.19,255.00) scale(1.0496,1.0000)" font-size="44" font-weight="bold" xml:space="preserve">Fitting curve GaN</text>
<text transform="translate(390.19,323.60) scale(1.0494,1.0000)" font-size="44" font-weight="bold" xml:space="preserve">Fitting curve GaN:Mg</text>
<g fill="#000"><text transform="translate(1122.75,153.60) scale(1.0581,1.0000)" font-size="54.2296" font-style="italic" xml:space="preserve">h</text><text transform="translate(1155.09,153.60) scale(0.9473,1.0000)" font-size="54.2296" xml:space="preserve">(</text><text transform="translate(1169.27,153.60) scale(1.1174,1.0000)" font-size="54.2296" font-style="italic" xml:space="preserve">t</text><text transform="translate(1187.11,153.60) scale(1.0169,1.0000)" font-size="54.2296" xml:space="preserve">)</text><text transform="translate(1217.92,158.37) scale(1.1342,1.0400)" font-size="54.2296" xml:space="preserve">=</text><text transform="translate(1260.22,153.60) scale(0.9651,1.0000)" font-size="54.2296" xml:space="preserve">152.2663</text><text transform="translate(1464.32,158.37) scale(1.1342,1.0400)" font-size="54.2296" xml:space="preserve">+</text><text transform="translate(1500.40,153.60) scale(0.9703,1.0000)" font-size="54.2296" xml:space="preserve">1.6343</text><text transform="translate(1646.00,153.60) scale(1.0662,1.0000)" font-size="54.2296" font-style="italic" xml:space="preserve">t</text><text transform="translate(1665.46,131.10) scale(0.9668,1.0000)" font-size="31.5476" xml:space="preserve">0.8371</text><text transform="translate(1759.62,158.37) scale(1.1342,1.0400)" font-size="54.2296" xml:space="preserve">−</text><text transform="translate(1802.21,153.60) scale(0.9810,1.0000)" font-size="54.2296" xml:space="preserve">0.6836</text><text transform="translate(1949.50,153.60) scale(1.0224,1.0000)" font-size="54.2296" font-style="italic" xml:space="preserve">t</text></g>
<g fill="#000"><text transform="translate(1125.17,242.40) scale(0.9835,1.0000)" font-size="54.2296" font-style="italic" xml:space="preserve">R</text><text transform="translate(1162.62,217.00) scale(1.1529,1.0000)" font-size="30.3571" xml:space="preserve">2</text><text transform="translate(1193.22,247.17) scale(1.1342,1.0400)" font-size="54.2296" xml:space="preserve">=</text><text transform="translate(1237.51,242.40) scale(0.9801,1.0000)" font-size="54.2296" xml:space="preserve">0.987</text></g>
<g fill="#ff0000"><text transform="translate(1167.29,715.20) scale(1.1005,1.0000)" font-size="51.0574" font-style="italic" xml:space="preserve">h</text><text transform="translate(1196.22,715.20) scale(1.0369,1.0000)" font-size="51.0574" xml:space="preserve">(</text><text transform="translate(1211.00,715.20) scale(1.2178,1.0000)" font-size="51.0574" font-style="italic" xml:space="preserve">t</text><text transform="translate(1231.62,715.20) scale(1.0725,1.0000)" font-size="51.0574" xml:space="preserve">)</text><text transform="translate(1259.62,719.69) scale(1.2046,1.0400)" font-size="51.0574" xml:space="preserve">=</text><text transform="translate(1299.19,715.20) scale(1.0093,1.0000)" font-size="51.0574" xml:space="preserve">131.3800</text><text transform="translate(1498.79,719.69) scale(1.1794,1.0400)" font-size="51.0574" xml:space="preserve">+</text><text transform="translate(1534.29,715.20) scale(1.0088,1.0000)" font-size="51.0574" xml:space="preserve">1.7458</text><text transform="translate(1674.90,715.20) scale(1.0859,1.0000)" font-size="51.0574" font-style="italic" xml:space="preserve">t</text><text transform="translate(1695.37,690.50) scale(0.9503,1.0000)" font-size="31.6964" xml:space="preserve">0.6537</text><text transform="translate(1791.75,719.69) scale(1.1962,1.0400)" font-size="51.0574" xml:space="preserve">−</text><text transform="translate(1832.26,715.20) scale(1.0128,1.0000)" font-size="51.0574" xml:space="preserve">0.2369</text><text transform="translate(1974.71,715.20) scale(0.9541,1.0000)" font-size="51.0574" font-style="italic" xml:space="preserve">t</text></g>
<g fill="#ff0000"><text transform="translate(1169.66,799.00) scale(1.0250,1.0000)" font-size="51.0574" font-style="italic" xml:space="preserve">R</text><text transform="translate(1205.18,774.00) scale(0.9731,1.0000)" font-size="30.0595" xml:space="preserve">2</text><text transform="translate(1235.48,803.49) scale(1.1836,1.0400)" font-size="51.0574" xml:space="preserve">=</text><text transform="translate(1280.40,799.00) scale(0.9908,1.0000)" font-size="51.0574" xml:space="preserve">0.993</text></g>
</svg>
</body></html>
